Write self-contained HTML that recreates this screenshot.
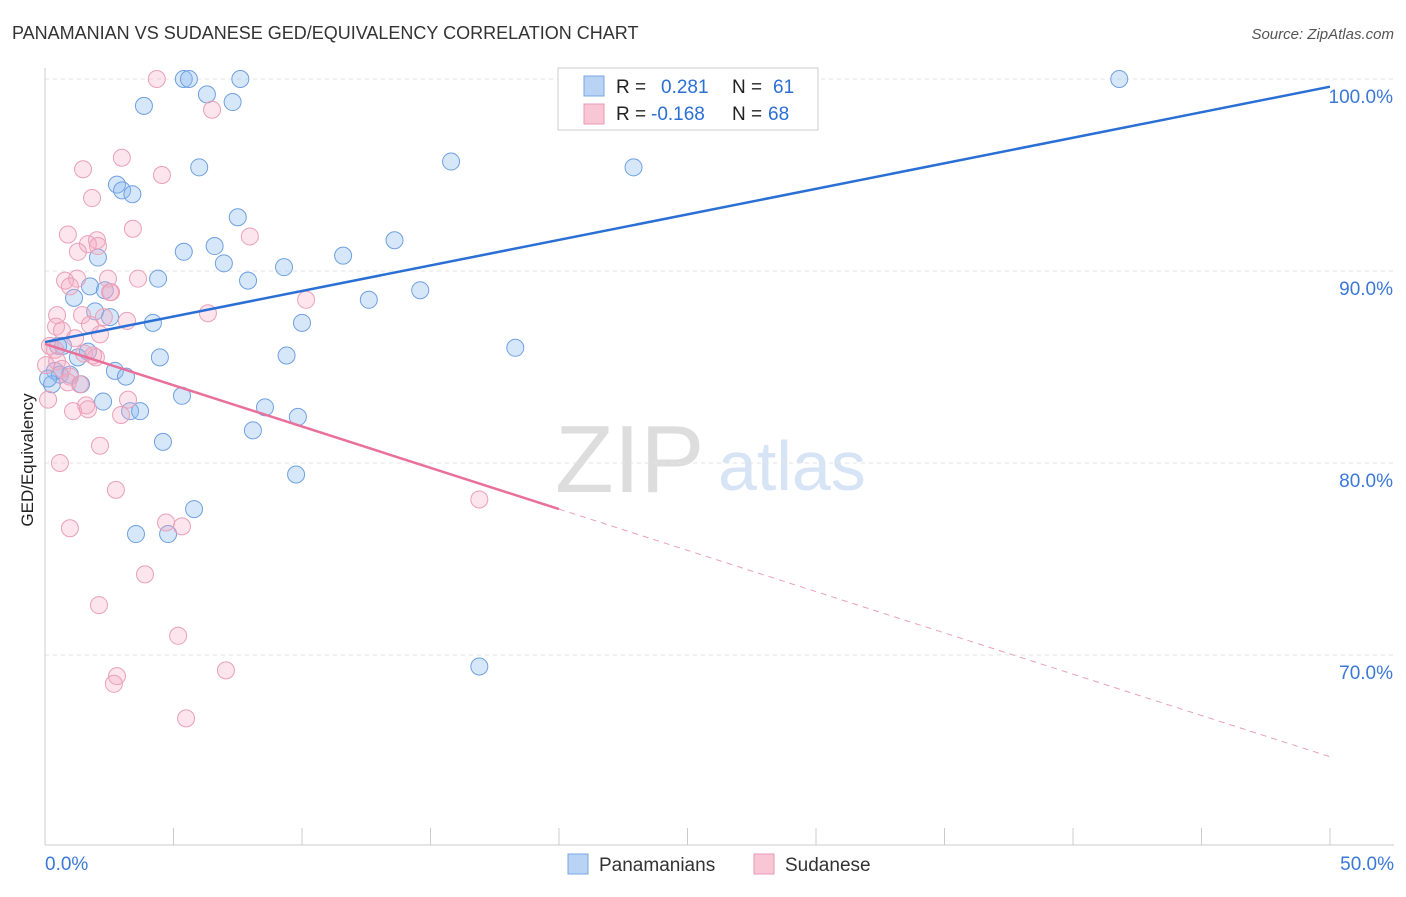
<!DOCTYPE html>
<html><head><meta charset="utf-8"><style>
body{margin:0;background:#fff;font-family:"Liberation Sans",sans-serif}
svg text{font-family:"Liberation Sans",sans-serif}
</style></head><body>
<svg id="chart" width="1406" height="892" xmlns="http://www.w3.org/2000/svg">
<text x="12" y="39" font-size="18" fill="#333">PANAMANIAN VS SUDANESE GED/EQUIVALENCY CORRELATION CHART</text>
<text x="1394" y="39" font-size="15" fill="#555" font-style="italic" text-anchor="end">Source: ZipAtlas.com</text>
<text x="33" y="460" font-size="17" fill="#222" transform="rotate(-90 33 460)" text-anchor="middle">GED/Equivalency</text>
<text x="555" y="492" font-size="96" fill="#ddd" font-family="Liberation Serif">ZIP</text>
<text x="718" y="490" font-size="70" fill="#d6e4f5">atlas</text>
<g id="grid"></g><g id="axes"></g><g id="pts"></g><g id="lines"></g>
<g>
<rect x="558" y="68" width="260" height="62" fill="#fff" stroke="#ccc"/>
<rect x="584" y="76" width="20" height="20" fill="#b9d3f5" stroke="#7aa6e0"/>
<rect x="584" y="104" width="20" height="20" fill="#f9c6d6" stroke="#e99ab3"/>
<text x="616" y="93" font-size="19" fill="#222">R =</text>
<text x="661" y="93" font-size="19" fill="#2b6fd6">0.281</text>
<text x="732" y="93" font-size="19" fill="#222">N =</text>
<text x="773" y="93" font-size="19" fill="#2b6fd6">61</text>
<text x="616" y="120" font-size="19" fill="#222">R =</text>
<text x="651" y="120" font-size="19" fill="#2b6fd6">-0.168</text>
<text x="732" y="120" font-size="19" fill="#222">N =</text>
<text x="768" y="120" font-size="19" fill="#2b6fd6">68</text>
</g>
<g>
<rect x="568" y="854" width="20" height="20" fill="#b9d3f5" stroke="#7aa6e0"/>
<text x="599" y="871" font-size="19" fill="#333">Panamanians</text>
<rect x="754" y="854" width="20" height="20" fill="#f9c6d6" stroke="#e99ab3"/>
<text x="785" y="871" font-size="19" fill="#333">Sudanese</text>
</g>
</svg>
<script>
const yTicks=[100,90,80,70];
const yTickLabels=["100.0%","90.0%","80.0%","70.0%"];
const xTickLabels=["0.0%","50.0%"];
const blueX=[5.4,5.6,7.6,41.8,3.85,6.3,7.3,23.1,6.0,15.8,22.9,2.8,3.0,3.4,7.5,5.4,6.6,6.96,2.06,11.6,13.6,9.3,4.4,7.9,1.75,1.13,2.33,12.6,14.6,1.95,2.53,4.2,10.0,0.7,1.67,1.28,4.47,9.4,18.3,0.39,0.58,0.97,2.72,3.15,0.27,1.4,5.33,2.26,8.56,3.31,3.7,9.84,4.59,8.09,9.77,5.8,3.54,4.79,16.9,0.12,0.51];
const blueY=[100,100,100,100,98.6,99.2,98.8,100,95.4,95.7,95.4,94.5,94.2,94.0,92.8,91.0,91.3,90.4,90.7,90.8,91.6,90.2,89.6,89.5,89.2,88.6,89.0,88.5,89.0,87.9,87.6,87.3,87.3,86.1,85.8,85.5,85.5,85.6,86.0,84.8,84.6,84.6,84.8,84.5,84.1,84.1,83.5,83.2,82.9,82.7,82.7,82.4,81.1,81.7,79.4,77.6,76.3,76.3,69.4,84.4,86.1];
const pinkX=[4.35,6.5,2.99,1.48,4.55,1.83,3.42,0.89,7.97,2.02,1.67,1.28,2.06,1.25,0.78,2.45,3.62,2.57,0.97,10.16,6.34,0.47,1.44,3.19,2.29,0.43,1.75,0.66,2.14,1.17,0.19,0.39,1.52,1.98,0.47,0.04,0.66,0.97,1.36,0.89,0.12,3.23,1.6,1.09,1.67,2.96,2.14,0.58,2.76,16.9,0.97,4.71,5.33,3.89,2.1,5.18,2.8,2.68,7.04,5.49,2.53,1.87];
const pinkY=[100,98.4,95.9,95.3,95.0,93.8,92.2,91.9,91.8,91.6,91.4,91.0,91.3,89.6,89.5,89.6,89.6,88.9,89.2,88.5,87.8,87.7,87.7,87.4,87.6,87.1,87.2,86.9,86.7,86.5,86.1,85.9,85.7,85.5,85.3,85.1,84.9,84.5,84.1,84.2,83.3,83.3,83.0,82.7,82.8,82.5,80.9,80.0,78.6,78.1,76.6,76.9,76.7,74.2,72.6,71.0,68.9,68.5,69.2,66.7,88.9,85.6];
const blueFit=[86.3,99.6];
const pinkFit=[86.2,64.7];
const NS="http://www.w3.org/2000/svg";
const sx=v=>45+v/50*1285, sy=v=>79+(100-v)*19.2;
function mk(tag,attrs,parent){const e=document.createElementNS(NS,tag);for(const k in attrs)e.setAttribute(k,attrs[k]);parent.appendChild(e);return e;}
const grid=document.getElementById('grid'),axes=document.getElementById('axes'),pts=document.getElementById('pts'),lines=document.getElementById('lines');
yTicks.forEach((t,i)=>{
 const l=mk('line',{x1:45,x2:1394,y1:sy(t),y2:sy(t),stroke:'#e3e3e3','stroke-dasharray':'4,4'},grid);
 
 
 const tx=mk('text',{x:1393,y:sy(t)+24,'font-size':19,fill:'#3a78d8','text-anchor':'end'},axes);
 tx.textContent=yTickLabels[i];
 
 
});
const xa=mk('line',{x1:45,x2:1394,y1:845,y2:845,stroke:'#ccc'},axes);


const ya=mk('line',{x1:45,x2:45,y1:68,y2:845,stroke:'#ccc'},axes);


for(let i=1;i<=10;i++){const t=mk('line',{x1:sx(i*5),x2:sx(i*5),y1:828,y2:845,stroke:'#ccc'},axes);
 
 }
[[0,'start',45],[1,'end',1394]].forEach(([i,a,x])=>{const t=mk('text',{x:x,y:870,'font-size':19,fill:'#3a78d8','text-anchor':a},axes);t.textContent=xTickLabels[i];
 
 });
blueX.forEach((x,i)=>{const c=mk('circle',{cx:sx(x),cy:sy(blueY[i]),r:8.5,fill:'rgba(140,185,240,0.35)',stroke:'#6fa0e0','stroke-width':1},pts);
 
 });
pinkX.forEach((x,i)=>{const c=mk('circle',{cx:sx(x),cy:sy(pinkY[i]),r:8.5,fill:'rgba(245,170,195,0.3)',stroke:'#eaa0b8','stroke-width':1},pts);
 
 });
const bl=mk('line',{x1:sx(0),y1:sy(blueFit[0]),x2:sx(50),y2:sy(blueFit[1]),stroke:'#2a6fd4','stroke-width':2.5},lines);


const pm=v=>pinkFit[0]+(pinkFit[1]-pinkFit[0])*v/50;
const pl=mk('line',{x1:sx(0),y1:sy(pm(0)),x2:sx(20),y2:sy(pm(20)),stroke:'#e8709a','stroke-width':2.5},lines);


const pd=mk('line',{x1:sx(20),y1:sy(pm(20)),x2:sx(50),y2:sy(pm(50)),stroke:'#eaa0b8','stroke-width':1,'stroke-dasharray':'6,5'},lines);


</script>
</body></html>
